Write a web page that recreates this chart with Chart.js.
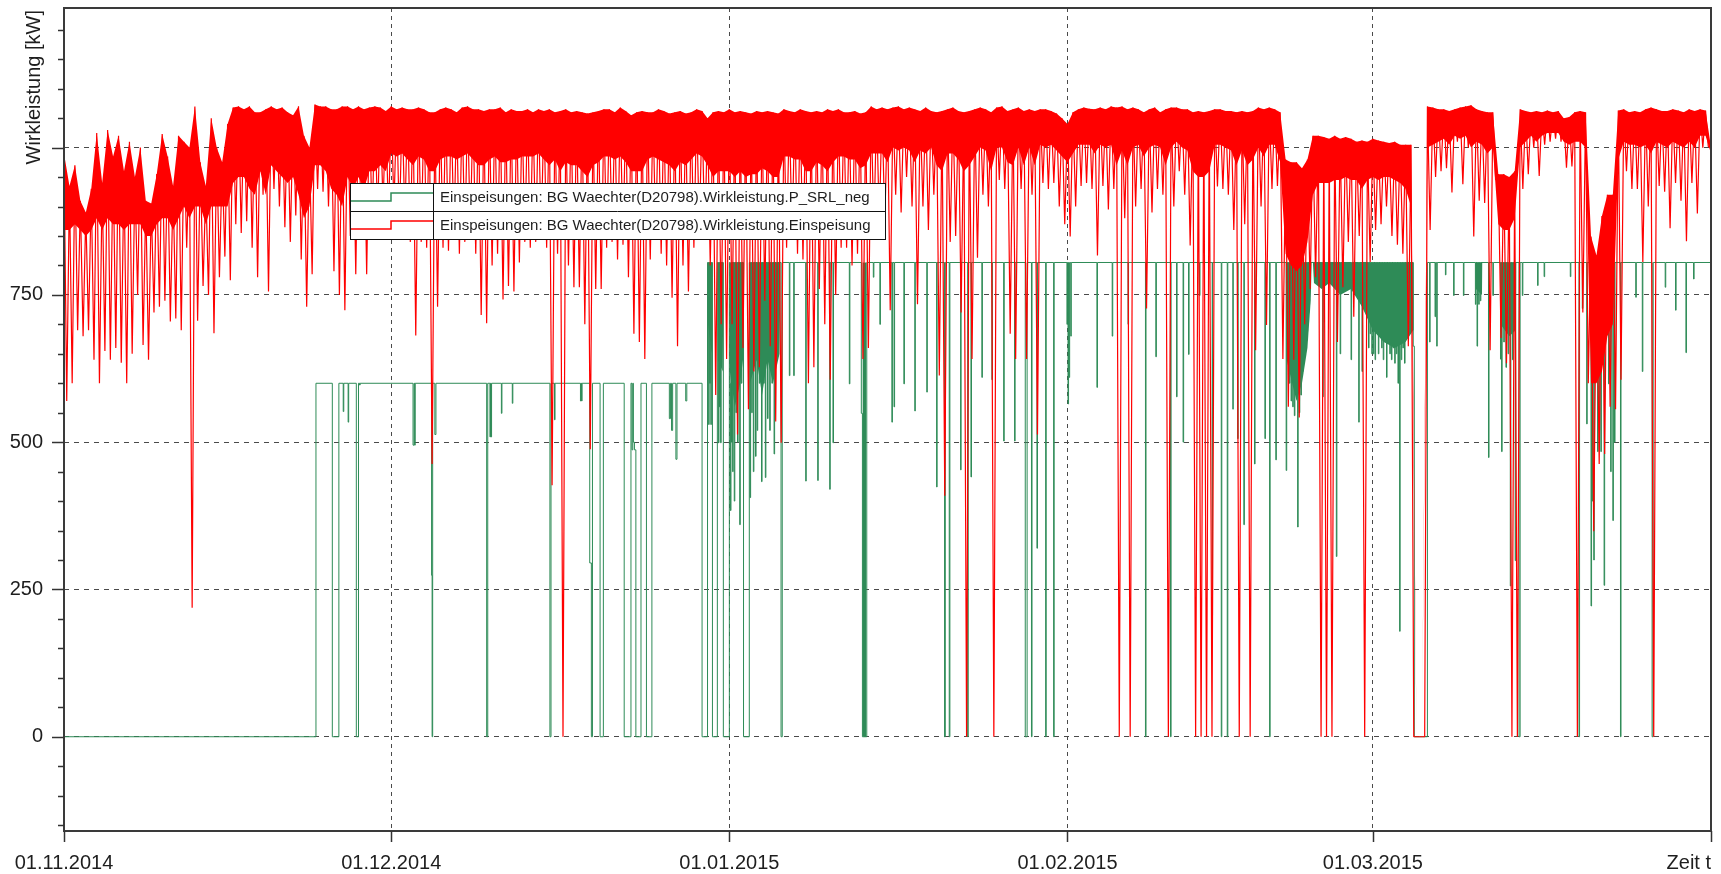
<!DOCTYPE html>
<html lang="de">
<head>
<meta charset="UTF-8">
<title>BG Waechter Wirkleistung</title>
<script src="https://cdn.jsdelivr.net/npm/chart.js"></script>
<style>
  html, body { margin: 0; padding: 0; background: #fff; }
</style>
</head>
<body>
<canvas id="chart" width="1721" height="874"></canvas>
<script>
// x-Achse: Tage seit 01.11.2014
const monthDays = [0, 30, 61, 92, 120, 151];
const monthLabels = ['01.11.2014', '01.12.2014', '01.01.2015', '01.02.2015', '01.03.2015', 'Zeit t'];
const yLabels = [0, 250, 500, 750];
const yGrid = [0, 250, 500, 750, 1000];

// Einspeisung [kW], je Halbtag ein Hoch- und ein Tiefwert (aus dem Bild gelesen)
const einHiNov = [990, 935, 970, 910, 890, 930, 1025, 940, 1030, 985,
  1020, 960, 1010, 950, 1000, 910, 905, 955, 1023, 985,
  935, 1020, 1010, 1000, 1070, 975, 935, 1050, 1000, 975,
  1040, 1068, 1070, 1065, 1070, 1060, 1060, 1065, 1070, 1065,
  1068, 1060, 1055, 1070, 1020, 1000, 1073, 1070, 1070, 1065,
  1065, 1070, 1070, 1065, 1070, 1065, 1068, 1070, 1068, 1062];
const einLoNov = [570, 600, 690, 680, 690, 640, 600, 655, 640, 660,
  635, 600, 650, 750, 665, 640, 720, 730, 740, 705,
  710, 690, 830, 219, 706, 765, 750, 685, 780, 815,
  775, 870, 855, 875, 830, 780, 920, 756, 930, 900,
  865, 840, 885, 810, 730, 785, 930, 925, 900, 790,
  750, 724, 850, 785, 860, 785, 870, 880, 900, 880];
const einHiDec = [1070, 1065, 1068, 1065, 1065, 1068, 1065, 1060, 1060, 1065,
  1068, 1065, 1060, 1068, 1070, 1065, 1065, 1062, 1065, 1065,
  1068, 1060, 1065, 1062, 1062, 1065, 1060, 1065, 1062, 1065,
  1060, 1062, 1065, 1060, 1062, 1060, 1058, 1060, 1062, 1065,
  1065, 1060, 1068, 1062, 1055, 1060, 1062, 1060, 1060, 1065,
  1062, 1058, 1060, 1062, 1058, 1060, 1065, 1062, 1050, 1060,
  1062, 1060];
const einLoDec = [900, 870, 880, 840, 681, 840, 830, 463, 730, 830,
  825, 855, 820, 840, 855, 820, 716, 702, 800, 820,
  742, 765, 756, 805, 840, 830, 840, 850, 830, 427,
  820, 0, 800, 763, 763, 700, 488, 760, 760, 830,
  840, 810, 835, 780, 684, 670, 641, 810, 850, 820,
  800, 745, 663, 800, 756, 830, 860, 845, 800, 580,
  700, 641];
const einHiJan = [1065, 1060, 1062, 1060, 1058, 1062, 1060, 1062, 1060, 1058,
  1065, 1062, 1060, 1065, 1062, 1060, 1062, 1060, 1065, 1062,
  1065, 1060, 1060, 1062, 1058, 1060, 1070, 1065, 1068, 1065,
  1068, 1070, 1065, 1068, 1065, 1062, 1068, 1062, 1060, 1062,
  1065, 1068, 1062, 1060, 1062, 1065, 1068, 1065, 1060, 1068,
  1070, 1062, 1065, 1068, 1062, 1065, 1062, 1065, 1065, 1062,
  1058, 1050];
const einLoJan = [700, 513, 660, 556, 620, 627, 740, 663, 535, 499,
  830, 850, 820, 810, 600, 627, 760, 700, 606, 750,
  830, 830, 800, 820, 641, 660, 860, 870, 870, 724,
  920, 890, 950, 900, 734, 900, 860, 920, 613, 409,
  840, 850, 720, 0, 641, 813, 920, 900, 0, 945,
  930, 684, 641, 930, 641, 920, 513, 940, 930, 940,
  900, 870];
const einHiFeb = [1040, 1060, 1065, 1068, 1066, 1065, 1068, 1065, 1070, 1068,
  1070, 1065, 1068, 1065, 1060, 1065, 1068, 1060, 1065, 1068,
  1068, 1065, 1065, 1060, 1062, 1060, 1062, 1065, 1065, 1062,
  1062, 1060, 1062, 1060, 1062, 1068, 1065, 1068, 1065, 1060,
  980, 975, 975, 965, 980, 1020, 1020, 1018, 1015, 1020,
  1015, 1018, 1015, 1010, 1012, 1010];
const einLoFeb = [849, 900, 935, 940, 930, 817, 935, 895, 930, 0,
  880, 0, 900, 930, 727, 890, 930, 920, 0, 900,
  960, 920, 834, 0, 0, 0, 0, 934, 930, 920,
  860, 0, 870, 0, 656, 900, 699, 930, 935, 641,
  560, 640, 542, 700, 760, 780, 0, 0, 0, 670,
  763, 840, 713, 850, 0, 806];
const einHiMar = [1015, 1012, 1010, 1008, 1010, 1005, 1005, 1005, 0, 0,
  1070, 1068, 1065, 1065, 1062, 1065, 1068, 1070, 1072, 1065,
  1062, 1060, 1060, 955, 955, 950, 960, 1065, 1062, 1060,
  1062, 1060, 1063, 1060, 1062, 1050, 1052, 1060, 1062, 1060,
  849, 817, 884, 920, 920, 1063, 1065, 1060, 1062, 1060,
  1065, 1068, 1065, 1062, 1062, 1065, 1063, 1060, 1065, 1062,
  1065, 1063, 1000];
const einLoMar = [860, 870, 900, 850, 835, 820, 663, 0, 0, 0,
  860, 950, 960, 965, 924, 1010, 938, 1000, 849, 910,
  906, 656, 945, 677, 634, 0, 0, 930, 955, 1000,
  952, 1005, 1010, 1015, 1010, 966, 968, 0, 720, 600,
  349, 463, 480, 560, 556, 606, 960, 930, 930, 806,
  900, 0, 935, 925, 863, 940, 910, 841, 940, 888,
  1000, 1002];
// Unterkante des dicht gefüllten roten Bandes, je Halbtag
const einBaseNov = [860, 860, 870, 860, 850, 860, 880, 860, 880, 870,
  870, 860, 870, 870, 870, 850, 850, 870, 880, 880,
  860, 880, 900, 880, 900, 900, 870, 900, 900, 900,
  900, 940, 950, 950, 930, 920, 960, 920, 970, 960,
  950, 940, 950, 920, 880, 900, 970, 970, 960, 930,
  920, 900, 950, 930, 950, 930, 960, 960, 970, 960];
const einBaseDec = [990, 985, 990, 980, 970, 985, 980, 960, 960, 980,
  985, 985, 980, 985, 990, 980, 970, 970, 980, 985,
  975, 975, 980, 980, 985, 985, 985, 990, 980, 970,
  980, 960, 975, 970, 970, 960, 950, 970, 975, 985,
  985, 980, 985, 975, 960, 960, 960, 980, 985, 980,
  975, 970, 960, 975, 970, 980, 990, 985, 970, 950,
  960, 960];
const einBaseJan = [960, 950, 960, 950, 955, 955, 965, 960, 950, 950,
  985, 985, 980, 980, 960, 960, 975, 970, 960, 975,
  985, 985, 980, 980, 965, 970, 990, 990, 990, 975,
  1000, 995, 1000, 995, 975, 995, 990, 1000, 970, 960,
  990, 990, 980, 960, 970, 985, 1000, 995, 960, 1000,
  1000, 975, 970, 1000, 970, 1000, 970, 1005, 1000, 1005,
  995, 985];
const einBaseFeb = [975, 990, 1005, 1005, 1005, 990, 1005, 1000, 1005, 970,
  995, 970, 1000, 1005, 985, 1000, 1005, 1000, 970, 1000,
  1010, 1000, 995, 960, 950, 950, 960, 1005, 1005, 1000,
  995, 970, 995, 970, 980, 1000, 985, 1005, 1005, 975,
  820, 800, 790, 800, 840, 920, 940, 940, 940, 945,
  945, 950, 945, 945, 930, 945];
const einBaseMar = [950, 945, 950, 950, 945, 940, 930, 900, 0, 0,
  1000, 1005, 1010, 1015, 1005, 1020, 1015, 1020, 1000, 1010,
  1005, 990, 1000, 870, 860, 860, 880, 1000, 1010, 1020,
  1010, 1020, 1025, 1025, 1025, 1010, 1005, 1010, 1010, 1000,
  600, 600, 620, 680, 700, 980, 1010, 1005, 1005, 1000,
  1005, 990, 1010, 1005, 1000, 1010, 1005, 1000, 1010, 1000,
  1020, 1020, 990];

// P_SRL_neg [kW] als Stufenwechsel [Tag, Wert]
const srlNov = [[0, 0], [23.1, 600], [24.6, 0], [25.2, 600], [25.6, 552], [25.65, 600], [26.05, 534], [26.1, 600],
  [26.8, 0], [27.0, 600], [27.1, 597], [27.15, 600]];
const srlDec = [[32.0, 495], [32.1, 600], [32.15, 495], [32.2, 600], [33.7, 274], [33.75, 0], [33.8, 600], [34.0, 513], [34.1, 600],
  [38.75, 0], [38.85, 600], [39.05, 509], [39.1, 600], [39.15, 509], [39.2, 600], [40.1, 549], [40.15, 600],
  [41.1, 566], [41.15, 600], [44.55, 0], [44.65, 600], [44.97, 538], [45.02, 600], [47.35, 570], [47.4, 600],
  [47.45, 570], [47.5, 600], [48.2, 295], [48.35, 0], [48.45, 600], [49.15, 0], [49.45, 600], [51.36, 0],
  [51.98, 600], [52.07, 487], [52.15, 600], [52.2, 500], [52.3, 487], [52.43, 0], [52.9, 600], [53.4, 0],
  [53.9, 600], [55.5, 540], [55.6, 600], [55.7, 520], [55.8, 600], [56.1, 471], [56.2, 600], [57.0, 570],
  [57.1, 600], [58.5, 0], [59.0, 805], [59.1, 530], [59.15, 805], [59.2, 600], [59.25, 805], [59.3, 530],
  [59.35, 805], [59.45, 0], [59.9, 805], [60.0, 499], [60.05, 805], [60.1, 560], [60.15, 805], [60.2, 499],
  [60.25, 805], [60.45, 0]];
const srlJan = [[61.0, 805], [61.05, 600], [61.1, 384], [61.15, 805], [61.2, 500], [61.25, 805], [61.3, 450], [61.35, 805],
  [61.45, 400], [61.5, 805], [61.6, 550], [61.65, 805], [61.75, 500], [61.8, 805], [61.95, 360], [62.0, 805],
  [62.1, 600], [62.15, 805], [62.3, 0], [62.83, 805], [62.9, 406], [62.95, 805], [63.05, 550], [63.1, 805],
  [63.2, 450], [63.25, 805], [63.4, 476], [63.45, 805], [63.55, 520], [63.6, 805], [63.75, 600], [63.8, 805],
  [63.95, 433], [64.0, 805], [64.15, 600], [64.2, 805], [64.3, 440], [64.35, 805], [64.5, 540], [64.55, 805],
  [64.7, 520], [64.75, 805], [64.9, 600], [64.95, 805], [65.1, 480], [65.15, 805], [65.3, 650], [65.35, 805],
  [65.74, 0], [65.85, 805], [66.5, 613], [66.55, 805], [66.9, 613], [66.95, 805], [68.0, 434], [68.05, 805],
  [69.1, 435], [69.15, 805], [70.2, 420], [70.25, 805], [70.5, 499], [70.55, 805], [72.0, 599], [72.05, 805],
  [73.1, 549], [73.2, 0], [73.6, 805], [74.2, 780], [74.25, 805], [74.8, 700], [74.85, 805], [75.9, 534],
  [75.95, 805], [76.1, 560], [76.15, 805], [77.0, 599], [77.05, 805], [78.0, 553], [78.05, 805], [79.1, 585],
  [79.15, 805], [80.0, 424], [80.05, 805], [80.73, 0], [80.8, 805], [81.16, 0], [81.22, 805], [82.2, 453],
  [82.25, 805], [82.85, 0], [82.9, 805], [83.15, 441], [83.2, 805], [84.15, 610], [84.2, 805], [85.07, 606],
  [85.12, 805], [86.15, 502], [86.2, 805], [87.15, 502], [87.2, 805], [88.13, 0], [88.3, 805], [88.7, 0],
  [88.75, 805], [89.2, 320], [89.25, 805], [90.0, 0], [90.05, 805], [90.73, 0], [90.78, 805], [91.95, 700],
  [92.0, 805]];
const srlFeb = [[92.05, 565], [92.1, 805], [92.15, 610], [92.2, 805], [92.3, 680], [92.35, 805], [94.7, 593], [94.75, 805],
  [96.1, 680], [96.15, 805], [97.55, 700], [97.6, 805], [99.15, 0], [99.2, 805], [100.1, 645], [100.15, 805],
  [101.45, 0], [101.5, 805], [102.0, 577], [102.05, 805], [102.6, 500], [102.65, 805], [103.1, 649], [103.15, 805],
  [104.1, 749], [104.15, 805], [105.27, 206], [105.3, 805], [106.1, 0], [106.15, 805], [106.65, 0], [106.7, 805],
  [107.16, 556], [107.2, 805], [107.6, 506], [107.65, 805], [108.17, 360], [108.22, 805], [109.15, 463], [109.2, 805],
  [110.1, 506], [110.15, 805], [110.53, 0], [110.58, 805], [111.1, 470], [111.15, 805], [112.05, 452], [112.1, 805],
  [112.2, 650], [112.25, 805], [112.35, 600], [112.4, 805], [112.5, 570], [112.55, 805], [112.65, 560], [112.7, 805],
  [112.8, 545], [112.85, 805], [112.95, 580], [113.0, 805], [113.1, 356], [113.15, 805], [113.25, 550], [113.3, 805],
  [113.4, 580], [113.45, 805], [113.55, 620], [113.6, 805], [113.7, 660], [113.75, 805], [113.85, 700], [113.9, 805],
  [114.0, 740], [114.05, 805], [115.4, 577], [115.45, 805], [116.65, 306], [116.7, 805], [117.0, 650], [117.05, 805],
  [118.0, 640], [118.05, 805], [118.7, 534], [118.75, 805], [119.0, 620], [119.05, 805], [119.6, 660], [119.65, 805],
  [119.75, 684], [119.8, 805], [119.9, 650], [119.95, 805]];
const srlMar = [[120.05, 650], [120.1, 805], [120.2, 640], [120.25, 805], [120.35, 690], [120.4, 805], [120.5, 650], [120.55, 805],
  [120.65, 700], [120.7, 805], [120.8, 660], [120.85, 805], [120.95, 640], [121.0, 805], [121.1, 700], [121.15, 805],
  [121.25, 610], [121.3, 805], [121.4, 680], [121.45, 805], [121.55, 650], [121.6, 805], [121.7, 640], [121.75, 805],
  [121.85, 660], [121.9, 805], [122.0, 634], [122.05, 805], [122.15, 650], [122.2, 805], [122.3, 600], [122.35, 805],
  [122.45, 179], [122.5, 805], [122.6, 640], [122.65, 805], [122.75, 660], [122.8, 805], [122.9, 634], [122.95, 805],
  [123.05, 700], [123.1, 805], [123.7, 663], [123.8, 0], [125.0, 805], [125.2, 670], [125.25, 805], [125.7, 713],
  [125.75, 805], [125.85, 663], [125.9, 805], [126.65, 784], [126.7, 805], [127.4, 749], [127.45, 805], [128.3, 749],
  [128.35, 805], [129.4, 734], [129.45, 805], [129.55, 663], [129.6, 805], [129.7, 734], [129.75, 805], [129.85, 740],
  [129.9, 805], [130.6, 474], [130.65, 805], [131.0, 749], [131.05, 805], [131.7, 641], [131.75, 805], [131.8, 484],
  [131.85, 805], [132.0, 670], [132.05, 805], [132.2, 627], [132.25, 805], [132.4, 650], [132.45, 805], [132.6, 256],
  [132.65, 805], [132.8, 640], [132.85, 805], [133.05, 299], [133.1, 805], [133.4, 0], [133.5, 805], [133.7, 749],
  [133.75, 805], [135.1, 766], [135.15, 805], [135.7, 781], [135.75, 805], [138.1, 781], [138.15, 805], [138.9, 0],
  [138.95, 805], [139.2, 727], [139.25, 805], [139.6, 531], [139.65, 805], [140.0, 222], [140.05, 805], [140.1, 400],
  [140.15, 805], [140.25, 300], [140.3, 805], [140.6, 484], [140.65, 805], [140.75, 520], [140.8, 805], [140.9, 484],
  [140.95, 805], [141.2, 257], [141.25, 805], [141.6, 599], [141.65, 805], [141.8, 450], [141.85, 805], [142.0, 367],
  [142.05, 805], [142.15, 500], [142.2, 805], [142.7, 0], [142.75, 805], [144.1, 746], [144.15, 805], [144.7, 620],
  [144.75, 805], [145.6, 0], [145.7, 805], [146.8, 763], [146.85, 805], [147.75, 724], [147.8, 805], [148.7, 652],
  [148.75, 805], [149.4, 777], [149.45, 805], [151, 805]];
// dicht belegte Bereiche unter 805 kW: Unterkante [Tag, Wert], null trennt
const srlDense = [[59.0, 805], [59.05, 700], [59.4, 650], [59.45, 805], [59.5, null],
  [59.9, 805], [59.95, 640], [60.4, 620], [60.45, 805], [60.5, null],
  [61.0, 805], [61.05, 620], [61.5, 560], [62.0, 600], [62.25, 640], [62.3, 805], [62.4, null],
  [62.83, 805], [62.9, 600], [63.5, 640], [64.0, 580], [64.5, 640], [65.0, 600], [65.6, 650], [65.7, 805], [65.8, null],
  [73.2, 805], [73.21, 0], [73.55, 0], [73.56, 805], [73.7, null],
  [112.0, 805], [112.1, 640], [112.6, 600], [113.0, 570], [113.5, 600], [114.0, 660], [114.3, 740], [114.4, 805], [114.45, null],
  [114.5, 805], [114.6, 770], [115.3, 760], [116.0, 770], [117.0, 750], [118.0, 760], [119.0, 730], [119.5, 710],
  [120.0, 690], [121.0, 670], [122.0, 660], [123.0, 670], [123.7, 690], [123.75, 805], [123.8, null],
  [129.4, 805], [129.45, 760], [130.0, 750], [130.05, 805], [130.1, null],
  [131.65, 805], [131.7, 700], [132.5, 680], [133.1, 690], [133.15, 805]];

const labelSrl = 'Einspeisungen: BG Waechter(D20798).Wirkleistung.P_SRL_neg';
const labelEin = 'Einspeisungen: BG Waechter(D20798).Wirkleistung.Einspeisung';
const green = '#2e8b57';
const red = '#ff0000';
const gridColor = '#4a4a4a';
const textColor = '#1e1e1e';
const fontName = "'Liberation Sans', Arial, sans-serif";

const einHi = [...einHiNov, ...einHiDec, ...einHiJan, ...einHiFeb, ...einHiMar];
const einLo = [...einLoNov, ...einLoDec, ...einLoJan, ...einLoFeb, ...einLoMar];
const einBase = [...einBaseNov, ...einBaseDec, ...einBaseJan, ...einBaseFeb, ...einBaseMar];

function zigzag() {
    const pts = [];
    for (let i = 0; i < einHi.length; i++) {
        pts.push({x: i * 0.5, y: einHi[i]});
        if (i < einLo.length) pts.push({x: i * 0.5 + 0.25, y: einLo[i]});
    }
    return pts;
}

const halfDays = arr => arr.map((v, i) => ({x: i * 0.5, y: v}));
const pairs = arr => arr.map(p => ({x: p[0], y: p[1]}));

// Achsenbeschriftung, Rahmen und Legende wie im Original
const decorations = {
    id: 'decorations',
    afterDraw(chart) {
        const {ctx, chartArea: a, scales: {x, y}} = chart;
        ctx.save();

        ctx.strokeStyle = '#3a3a3a';
        ctx.lineWidth = 2;
        ctx.strokeRect(a.left, a.top, a.right - a.left, a.bottom - a.top);

        ctx.lineWidth = 1.5;
        ctx.strokeStyle = '#333';
        for (let v = -150; v <= 1200; v += 50) {
            const py = Math.round(y.getPixelForValue(v)) + 0.5;
            const len = v % 250 === 0 ? 12 : 6;
            ctx.beginPath();
            ctx.moveTo(a.left - len, py);
            ctx.lineTo(a.left, py);
            ctx.stroke();
        }
        monthDays.forEach(d => {
            const px = Math.round(x.getPixelForValue(d)) + 0.5;
            ctx.beginPath();
            ctx.moveTo(px, a.bottom);
            ctx.lineTo(px, a.bottom + 11);
            ctx.stroke();
        });

        ctx.fillStyle = textColor;
        ctx.font = '20px ' + fontName;
        ctx.textAlign = 'right';
        ctx.textBaseline = 'middle';
        yLabels.forEach(v => {
            ctx.fillText(String(v), a.left - 21, y.getPixelForValue(v));
        });

        monthLabels.forEach((t, i) => {
            const px = x.getPixelForValue(monthDays[i]);
            ctx.textAlign = i === monthLabels.length - 1 ? 'right' : 'center';
            ctx.fillText(t, px, 863);
        });

        ctx.save();
        ctx.translate(34, 10);
        ctx.rotate(-Math.PI / 2);
        ctx.textAlign = 'right';
        ctx.textBaseline = 'middle';
        ctx.fillText('Wirkleistung [kW]', 0, 0);
        ctx.restore();

        // Legende
        const lx = 350, ly = 183, lw = 535, rh = 28, sw = 83;
        ctx.fillStyle = '#fff';
        ctx.fillRect(lx, ly, lw, rh * 2);
        ctx.strokeStyle = '#111';
        ctx.lineWidth = 1;
        ctx.strokeRect(lx + 0.5, ly + 0.5, lw, rh * 2);
        ctx.beginPath();
        ctx.moveTo(lx, ly + rh + 0.5);
        ctx.lineTo(lx + lw, ly + rh + 0.5);
        ctx.moveTo(lx + sw + 0.5, ly);
        ctx.lineTo(lx + sw + 0.5, ly + rh * 2);
        ctx.stroke();

        [[green, labelSrl], [red, labelEin]].forEach((row, i) => {
            const top = ly + i * rh;
            ctx.strokeStyle = row[0];
            ctx.lineWidth = 1.5;
            ctx.beginPath();
            ctx.moveTo(lx + 1, top + 18);
            ctx.lineTo(lx + 41, top + 18);
            ctx.lineTo(lx + 41, top + 10);
            ctx.lineTo(lx + sw, top + 10);
            ctx.stroke();
            ctx.fillStyle = textColor;
            ctx.font = '15px ' + fontName;
            ctx.textAlign = 'left';
            ctx.fillText(row[1], lx + sw + 7, top + rh / 2 + 1);
        });

        ctx.restore();
    }
};

new Chart(document.getElementById('chart'), {
    type: 'line',
    data: {
        datasets: [
            {
                label: labelEin,
                data: zigzag(),
                borderColor: red,
                borderWidth: 1.2,
                borderJoinStyle: 'bevel',
                pointRadius: 0,
                order: 0
            },
            {
                label: 'band',
                data: halfDays(einHi),
                borderColor: 'transparent',
                borderWidth: 0,
                backgroundColor: red,
                fill: 2,
                pointRadius: 0,
                order: 1
            },
            {
                label: 'bandBase',
                data: halfDays(einBase),
                borderColor: 'transparent',
                borderWidth: 0,
                pointRadius: 0,
                fill: false,
                order: 1
            },
            {
                label: 'srlDense',
                data: pairs(srlDense),
                borderColor: 'transparent',
                borderWidth: 0,
                backgroundColor: green,
                fill: {value: 805},
                spanGaps: false,
                pointRadius: 0,
                order: 2
            },
            {
                label: labelSrl,
                data: pairs([...srlNov, ...srlDec, ...srlJan, ...srlFeb, ...srlMar]),
                borderColor: green,
                borderWidth: 1,
                stepped: 'before',
                pointRadius: 0,
                order: 3
            }
        ]
    },
    options: {
        responsive: false,
        animation: false,
        devicePixelRatio: 1,
        layout: { padding: { top: 8, right: 10, left: 0, bottom: 0 } },
        plugins: { legend: { display: false }, tooltip: { enabled: false } },
        scales: {
            x: {
                type: 'linear',
                min: 0,
                max: 151,
                afterBuildTicks: axis => { axis.ticks = monthDays.slice(1, -1).map(v => ({value: v})); },
                afterFit: axis => { axis.height = 43; },
                ticks: { display: false },
                grid: { color: gridColor, lineWidth: 1, drawTicks: false },
                border: { display: false, dash: [4, 4] }
            },
            y: {
                min: -160,
                max: 1237,
                afterBuildTicks: axis => { axis.ticks = yGrid.map(v => ({value: v})); },
                afterFit: axis => { axis.width = 64; },
                ticks: { display: false },
                grid: { color: gridColor, lineWidth: 1, drawTicks: false },
                border: { display: false, dash: [5, 5] }
            }
        }
    },
    plugins: [decorations]
});
</script>
</body>
</html>
